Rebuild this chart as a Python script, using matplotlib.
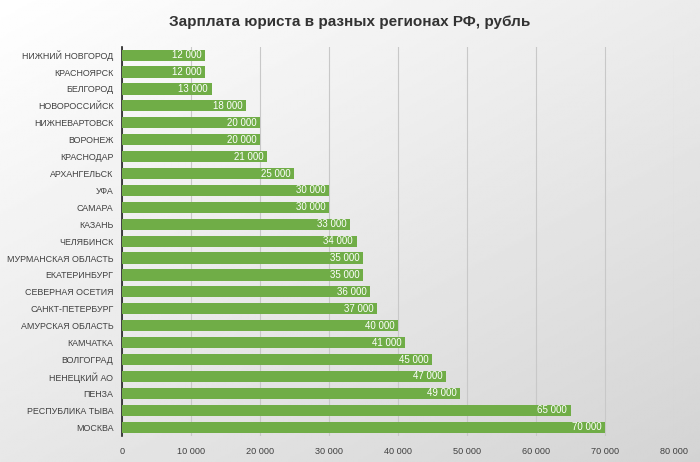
import matplotlib
matplotlib.use('Agg')
import matplotlib.pyplot as plt
import numpy as np

cities = ['НИЖНИЙ НОВГОРОД', 'КРАСНОЯРСК', 'БЕЛГОРОД', 'НОВОРОССИЙСК',
          'НИЖНЕВАРТОВСК', 'ВОРОНЕЖ', 'КРАСНОДАР', 'АРХАНГЕЛЬСК', 'УФА',
          'САМАРА', 'КАЗАНЬ', 'ЧЕЛЯБИНСК', 'МУРМАНСКАЯ ОБЛАСТЬ',
          'ЕКАТЕРИНБУРГ', 'СЕВЕРНАЯ ОСЕТИЯ', 'САНКТ-ПЕТЕРБУРГ',
          'АМУРСКАЯ ОБЛАСТЬ', 'КАМЧАТКА', 'ВОЛГОГРАД', 'НЕНЕЦКИЙ АО',
          'ПЕНЗА', 'РЕСПУБЛИКА ТЫВА', 'МОСКВА']
salary = [12000, 12000, 13000, 18000, 20000, 20000, 21000, 25000, 30000,
          30000, 33000, 34000, 35000, 35000, 36000, 37000, 40000, 41000,
          45000, 47000, 49000, 65000, 70000]
ticks = [0, 10000, 20000, 30000, 40000, 50000, 60000, 70000, 80000]

plt.rcParams['font.family'] = ['Liberation Sans', 'DejaVu Sans']


def fmt(v):
    return f'{v:,}'.replace(',', ' ')


fig = plt.figure(figsize=(7, 4.62), dpi=100)

# gradient background
bg = fig.add_axes([0, 0, 1, 1], zorder=-10)
yy, xx = np.mgrid[0:1:200j, 0:1:300j]
grad = 1 - 0.17 * (0.45 * xx + 0.55 * yy)
bg.imshow(grad, cmap='gray', vmin=0, vmax=1, aspect='auto', extent=[0, 1, 0, 1])
bg.axis('off')

ax = fig.add_axes([0.174, 0.057, 0.789, 0.842])
ax.patch.set_alpha(0)
y = np.arange(len(cities))
ax.barh(y, salary, height=0.66, color='#70ad47', zorder=3)
for yi, v in zip(y, salary):
    ax.text(v - 500, yi, fmt(v), ha='right', va='center', color='white',
            fontsize=7, zorder=4)

ax.set_ylim(len(cities) - 0.5, -0.5)
ax.set_xlim(0, 80000)
ax.set_yticks(y)
ax.set_yticklabels(cities, fontsize=6.4, color='#404040')
ax.set_xticks(ticks)
ax.set_xticklabels([fmt(t) for t in ticks], fontsize=6.6, color='#404040')
ax.tick_params(axis='y', length=0, pad=6)
ax.tick_params(axis='x', length=0, pad=8)
ax.grid(axis='x', color='#c8c8c8', linewidth=0.8, zorder=0)
for s in ['top', 'right', 'bottom']:
    ax.spines[s].set_visible(False)
ax.spines['left'].set_color('#222222')
ax.spines['left'].set_linewidth(1.2)

fig.text(0.5, 0.952, 'Зарплата юриста в разных регионах РФ, рубль',
         ha='center', va='center', fontsize=11, fontweight='bold',
         color='#333333')

fig.savefig('out.png', dpi=100)
